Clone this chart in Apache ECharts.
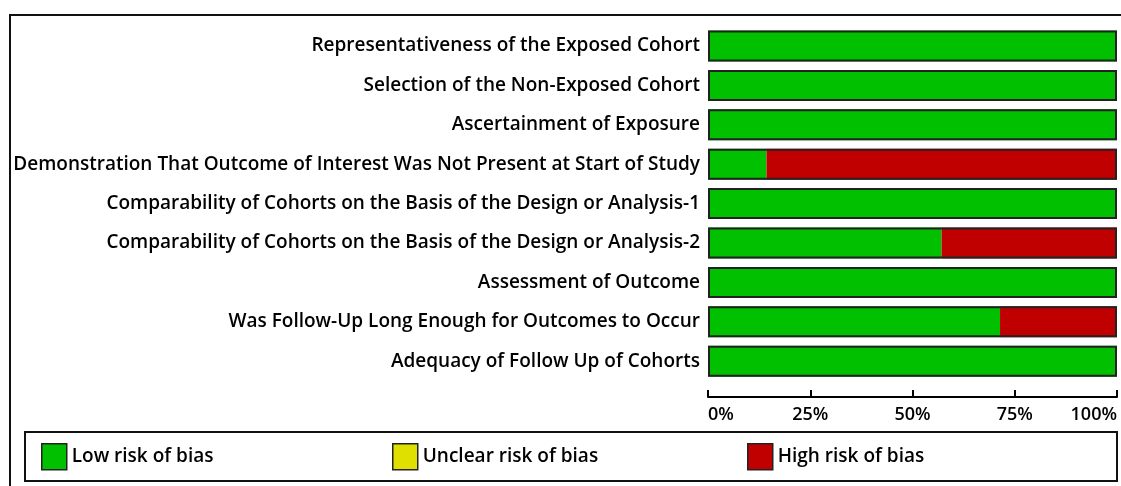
<!DOCTYPE html>
<html><head><meta charset="utf-8">
<script src="https://cdn.jsdelivr.net/npm/echarts@6/dist/echarts.min.js"></script>
<style>html,body{margin:0;padding:0;background:#fff}#c{width:1121px;height:486px}</style>
</head><body><div id="c"></div>
<script>
const categories = [
  "Representativeness of the Exposed Cohort",
  "Selection of the Non-Exposed Cohort",
  "Ascertainment of Exposure",
  "Demonstration That Outcome of Interest Was Not Present at Start of Study",
  "Comparability of Cohorts on the Basis of the Design or Analysis-1",
  "Comparability of Cohorts on the Basis of the Design or Analysis-2",
  "Assessment of Outcome",
  "Was Follow-Up Long Enough for Outcomes to Occur",
  "Adequacy of Follow Up of Cohorts"
];
const lowRisk     = [100, 100, 100, 14.3, 100, 57.1, 100, 71.4, 100];
const unclearRisk = [0, 0, 0, 0, 0, 0, 0, 0, 0];
const highRisk    = [0, 0, 0, 85.7, 0, 42.9, 0, 28.6, 0];
const totals      = [100, 100, 100, 100, 100, 100, 100, 100, 100];
const xTicks = [0, 25, 50, 75, 100];

const FONT = "Open Sans";
const FS = 19;
const FW = 600;
const chart = echarts.init(document.getElementById('c'));
const legendText = {color:'#000', fontSize:FS, fontWeight:FW, fontFamily:FONT};
function legendFor(name, left){
  return {data:[name], left:left, top:443, padding:0, itemWidth:25, itemHeight:26, itemGap:0,
    textStyle:legendText, selectedMode:false, icon:'rect',
    itemStyle:{borderColor:'#222', borderWidth:1.5}};
}
chart.setOption({
  animation:false,
  graphic:[
    {type:'rect', shape:{x:10, y:15, width:1300, height:700}, style:{fill:'none', stroke:'#111', lineWidth:2}, z:-1},
    {type:'rect', shape:{x:25, y:432, width:1092, height:49}, style:{fill:'#fff', stroke:'#111', lineWidth:2}, z:-1}
  ],
  legend:[legendFor('Low risk of bias',41), legendFor('Unclear risk of bias',392), legendFor('High risk of bias',747)],
  grid:{left:708, right:4, top:26.3, height:354.6, containLabel:false, outerBoundsMode:'none'},
  xAxis:{type:'value', min:0, max:100, interval:25, offset:16,
    axisLine:{show:true, lineStyle:{color:'#000', width:2}},
    axisTick:{show:true, inside:true, length:7, lineStyle:{color:'#000', width:2}},
    splitLine:{show:false},
    axisLabel:{formatter:(v)=>v+'%', color:'#000', fontSize:18, fontWeight:FW, fontFamily:FONT, margin:9,
      alignMinLabel:'left', alignMaxLabel:'right', showMinLabel:true, showMaxLabel:true},
    data: xTicks
  },
  yAxis:{type:'category', data:categories, inverse:true,
    axisLine:{show:false}, axisTick:{show:false},
    axisLabel:{color:'#000', fontSize:FS, fontWeight:FW, fontFamily:FONT, margin:8}
  },
  series:[
    {name:'Low risk of bias', type:'bar', stack:'r', data:lowRisk, barWidth:31,
      itemStyle:{color:'#00C000', borderWidth:0}},
    {name:'Unclear risk of bias', type:'bar', stack:'r', data:unclearRisk, barWidth:31,
      itemStyle:{color:'#E0E000', borderWidth:0}},
    {name:'High risk of bias', type:'bar', stack:'r', data:highRisk, barWidth:31,
      itemStyle:{color:'#C00000', borderWidth:0}},
    {name:'outline', type:'bar', stack:'o', data:totals, barWidth:31, barGap:'-100%', silent:true,
      itemStyle:{color:'rgba(0,0,0,0)', borderColor:'#222', borderWidth:2}}
  ]
});
</script></body></html>
